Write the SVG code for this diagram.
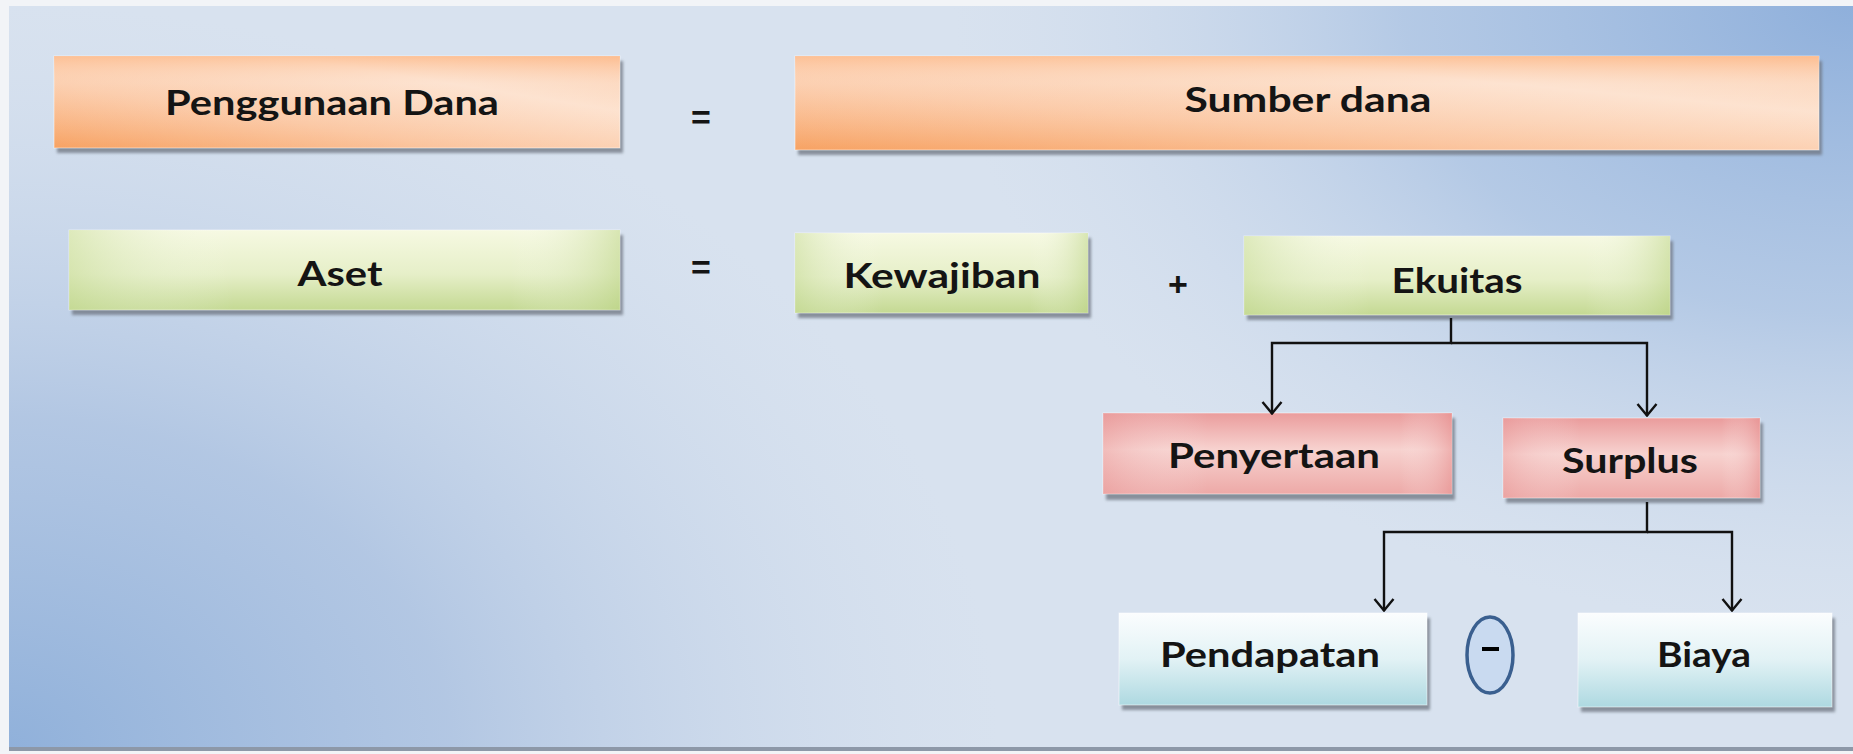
<svg xmlns="http://www.w3.org/2000/svg" width="1853" height="754" viewBox="0 0 1853 754">
<defs>
<radialGradient id="bgBL" gradientUnits="userSpaceOnUse" cx="0" cy="754" r="1000" gradientTransform="translate(0,754) scale(1,0.75) translate(0,-754)">
<stop offset="0" stop-color="#8fb0da"/><stop offset="0.45" stop-color="#a9c0e0" stop-opacity="0.8"/><stop offset="1" stop-color="#c9d7ea" stop-opacity="0"/>
</radialGradient>
<radialGradient id="bgTR" gradientUnits="userSpaceOnUse" cx="1853" cy="0" r="900" gradientTransform="translate(1853,0) scale(1,0.7) translate(-1853,0)">
<stop offset="0" stop-color="#8eafdb"/><stop offset="0.5" stop-color="#a8c1e2" stop-opacity="0.75"/><stop offset="1" stop-color="#c9d7ea" stop-opacity="0"/>
</radialGradient>
<linearGradient id="orange" x1="0" y1="1" x2="1" y2="0">
<stop offset="0" stop-color="#f7a263"/><stop offset="0.35" stop-color="#fbc59f"/><stop offset="0.7" stop-color="#fde1cd"/><stop offset="1" stop-color="#fbc8a4"/>
</linearGradient>
<linearGradient id="orangeTop" x1="0" y1="0" x2="0" y2="1">
<stop offset="0" stop-color="#fdb887" stop-opacity="0.7"/><stop offset="0.3" stop-color="#fde8da" stop-opacity="0.3"/><stop offset="1" stop-color="#fde8da" stop-opacity="0"/>
</linearGradient>
<linearGradient id="green" x1="0" y1="0" x2="0" y2="1">
<stop offset="0" stop-color="#f6f9e2"/><stop offset="0.55" stop-color="#e6efc8"/><stop offset="1" stop-color="#c4d993"/>
</linearGradient>
<linearGradient id="greenSide" x1="0" y1="0" x2="1" y2="0">
<stop offset="0" stop-color="#c5da95" stop-opacity="0.5"/><stop offset="0.3" stop-color="#ffffff" stop-opacity="0"/><stop offset="0.8" stop-color="#ffffff" stop-opacity="0"/><stop offset="1" stop-color="#b9d282" stop-opacity="0.5"/>
</linearGradient>
<linearGradient id="pink" x1="0" y1="0" x2="0" y2="1">
<stop offset="0" stop-color="#ea9c9c"/><stop offset="0.45" stop-color="#f7d2cf"/><stop offset="1" stop-color="#eda9a7"/>
</linearGradient>
<linearGradient id="pinkSide" x1="0" y1="0" x2="1" y2="0">
<stop offset="0" stop-color="#e99a9a" stop-opacity="0.4"/><stop offset="0.3" stop-color="#ffffff" stop-opacity="0"/><stop offset="0.85" stop-color="#ffffff" stop-opacity="0"/><stop offset="1" stop-color="#e68c8c" stop-opacity="0.5"/>
</linearGradient>
<linearGradient id="cyan" x1="0" y1="0" x2="0" y2="1">
<stop offset="0" stop-color="#fbfdfe"/><stop offset="0.5" stop-color="#e2f2f5"/><stop offset="1" stop-color="#aed9e1"/>
</linearGradient>
<filter id="shadow" x="-5%" y="-20%" width="115%" height="150%">
<feGaussianBlur stdDeviation="1.5"/>
</filter>
<marker id="arr" viewBox="0 0 14 22" refX="13" refY="11" markerWidth="14" markerHeight="22" markerUnits="userSpaceOnUse" orient="auto">
<path d="M1,1.5 L12.5,11 L1,20.5" fill="none" stroke="#111" stroke-width="2.4"/>
</marker>
</defs>
<style>
.sh{fill:#6d7580;opacity:0.75;filter:url(#shadow)}
.bx{stroke:#ffffff;stroke-opacity:0.5;stroke-width:1}
.t{font-family:Lato,"Open Sans","Liberation Sans",sans-serif;font-weight:bold;font-size:34px;fill:#141414;text-anchor:middle}
.op{font-family:"Liberation Sans",sans-serif;font-weight:bold;font-size:34px;fill:#141414;text-anchor:middle}
.cn{fill:none;stroke:#111;stroke-width:2.4}
</style>
<rect width="1853" height="754" fill="#f2f4f7"/>
<g id="background">
<rect x="9" y="6" width="1844" height="742" fill="#d8e2ef"/>
<rect x="9" y="6" width="1844" height="742" fill="url(#bgBL)"/>
<rect x="9" y="6" width="1844" height="742" fill="url(#bgTR)"/>
<rect x="9" y="747" width="1844" height="4" fill="#8d98a8"/>
</g>
<g id="penggunaan-dana">
<rect class="sh" x="57" y="61" width="566" height="92"/>
<rect class="bx" x="54" y="56" width="566" height="92" fill="url(#orange)"/>
<rect x="54" y="56" width="566" height="92" fill="url(#orangeTop)"/>
<text class="t" x="332" y="115" textLength="334" lengthAdjust="spacingAndGlyphs">Penggunaan Dana</text>
</g>
<g id="eq1"><text class="op" x="701" y="129">=</text></g>
<g id="sumber-dana">
<rect class="sh" x="798" y="61" width="1024" height="94"/>
<rect class="bx" x="795" y="56" width="1024" height="94" fill="url(#orange)"/>
<rect x="795" y="56" width="1024" height="94" fill="url(#orangeTop)"/>
<text class="t" x="1308" y="112" textLength="247" lengthAdjust="spacingAndGlyphs">Sumber dana</text>
</g>
<g id="aset">
<rect class="sh" x="72" y="235" width="551" height="80"/>
<rect class="bx" x="69" y="230" width="551" height="80" fill="url(#green)"/>
<rect x="69" y="230" width="551" height="80" fill="url(#greenSide)"/>
<text class="t" x="340" y="286" textLength="85" lengthAdjust="spacingAndGlyphs">Aset</text>
</g>
<g id="eq2"><text class="op" x="701" y="279">=</text></g>
<g id="kewajiban">
<rect class="sh" x="798" y="238" width="293" height="80"/>
<rect class="bx" x="795" y="233" width="293" height="80" fill="url(#green)"/>
<rect x="795" y="233" width="293" height="80" fill="url(#greenSide)"/>
<text class="t" x="942" y="288" textLength="197" lengthAdjust="spacingAndGlyphs">Kewajiban</text>
</g>
<g id="plus"><text class="op" x="1178" y="296">+</text></g>
<g id="ekuitas">
<rect class="sh" x="1247" y="241" width="426" height="79"/>
<rect class="bx" x="1244" y="236" width="426" height="79" fill="url(#green)"/>
<rect x="1244" y="236" width="426" height="79" fill="url(#greenSide)"/>
<text class="t" x="1457" y="293" textLength="131" lengthAdjust="spacingAndGlyphs">Ekuitas</text>
</g>
<g id="penyertaan">
<rect class="sh" x="1106" y="418" width="349" height="82"/>
<rect class="bx" x="1103" y="413" width="349" height="81" fill="url(#pink)"/>
<rect x="1103" y="413" width="349" height="81" fill="url(#pinkSide)"/>
<text class="t" x="1274" y="468" textLength="212" lengthAdjust="spacingAndGlyphs">Penyertaan</text>
</g>
<g id="surplus">
<rect class="sh" x="1506" y="423" width="257" height="80"/>
<rect class="bx" x="1503" y="418" width="257" height="80" fill="url(#pink)"/>
<rect x="1503" y="418" width="257" height="80" fill="url(#pinkSide)"/>
<text class="t" x="1630" y="473" textLength="136" lengthAdjust="spacingAndGlyphs">Surplus</text>
</g>
<g id="pendapatan">
<rect class="sh" x="1122" y="618" width="308" height="92"/>
<rect class="bx" x="1119" y="613" width="308" height="92" fill="url(#cyan)"/>
<text class="t" x="1270" y="667" textLength="220" lengthAdjust="spacingAndGlyphs">Pendapatan</text>
</g>
<g id="minus">
<ellipse cx="1490" cy="655" rx="23" ry="38" fill="#c9daf0" stroke="#3a5f8f" stroke-width="3.5"/>
<rect x="1482" y="647" width="17" height="4" fill="#000"/>
</g>
<g id="biaya">
<rect class="sh" x="1581" y="618" width="254" height="94"/>
<rect class="bx" x="1578" y="613" width="254" height="94" fill="url(#cyan)"/>
<text class="t" x="1704" y="667" textLength="94" lengthAdjust="spacingAndGlyphs">Biaya</text>
</g>
<g id="connectors">
<path class="cn" d="M1451,318 V343 H1272 V414" marker-end="url(#arr)"/>
<path class="cn" d="M1451,343 H1647 V416" marker-end="url(#arr)"/>
<path class="cn" d="M1647,502 V532 H1384 V611" marker-end="url(#arr)"/>
<path class="cn" d="M1647,532 H1732 V611" marker-end="url(#arr)"/>
</g>
</svg>
